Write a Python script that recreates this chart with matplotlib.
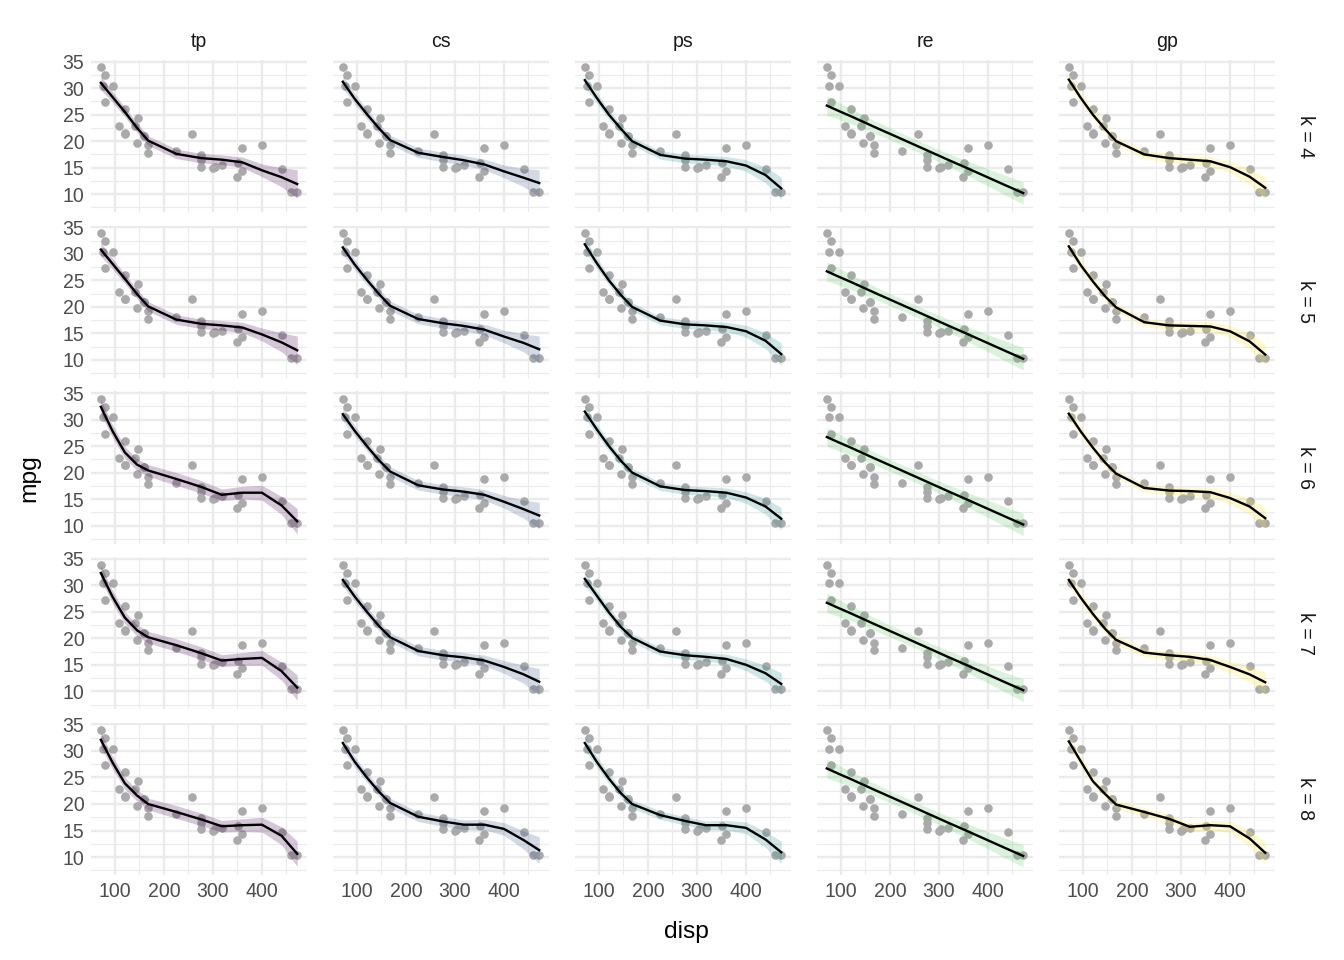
import matplotlib.pyplot as plt
import numpy as np

plt.rcParams["font.family"] = ["Liberation Sans", "DejaVu Sans"]

BASES = ["tp", "cs", "ps", "re", "gp"]
K_VALUES = [4, 5, 6, 7, 8]
FILLS = ["#440154", "#3B528B", "#21908C", "#5DC863", "#FDE725"]

# mtcars: displacement and miles per gallon
DISP = [160, 160, 108, 258, 360, 225, 360, 146.7, 140.8, 167.6, 167.6, 275.8,
        275.8, 275.8, 472, 460, 440, 78.7, 75.7, 71.1, 120.1, 318, 304, 350,
        400, 79, 120.3, 95.1, 351, 145, 301, 121]
MPG = [21.0, 21.0, 22.8, 21.4, 18.7, 18.1, 14.3, 24.4, 22.8, 19.2, 17.8, 16.4,
       17.3, 15.2, 10.4, 10.4, 14.7, 32.4, 30.4, 33.9, 21.5, 15.5, 15.2, 13.3,
       19.2, 27.3, 26.0, 30.4, 15.8, 19.7, 15.0, 21.4]

X_KNOTS = [71.1, 95.1, 120.1, 145.0, 167.6, 225.0, 275.8, 318.0, 360.0, 400.0, 440.0, 472.0]

# fitted mpg per k (rows k = 4..8)
FIT_TP = [
    [31.0, 28.3, 25.5, 22.5, 20.1, 17.6, 16.8, 16.5, 16.0, 14.5, 13.2, 11.9],
    [30.8, 28.1, 25.3, 22.4, 20.1, 17.6, 16.8, 16.5, 16.1, 14.8, 13.3, 11.8],
    [32.4, 27.8, 23.8, 21.5, 20.4, 18.8, 17.3, 15.8, 16.2, 16.2, 13.8, 10.8],
    [32.3, 27.8, 23.9, 21.5, 20.2, 18.7, 17.2, 15.8, 16.1, 16.3, 13.8, 10.7],
    [32.1, 27.8, 23.9, 21.6, 20.0, 18.5, 17.1, 15.8, 16.0, 16.1, 14.0, 10.6],
]
FIT_CS = [
    [31.2, 28.0, 25.1, 22.4, 20.2, 17.8, 17.0, 16.4, 15.6, 14.3, 13.1, 12.1],
    [31.2, 28.0, 25.1, 22.4, 20.2, 17.7, 16.9, 16.4, 15.7, 14.4, 13.2, 12.0],
    [31.0, 27.9, 25.0, 22.3, 20.2, 17.6, 16.8, 16.4, 15.8, 14.5, 13.1, 11.9],
    [31.0, 27.9, 25.0, 22.3, 20.2, 17.6, 16.8, 16.4, 15.8, 14.6, 13.2, 11.8],
    [31.5, 28.0, 25.0, 22.3, 20.2, 17.6, 16.7, 16.1, 16.1, 15.3, 13.2, 11.3],
]
FIT_PS = [
    [31.5, 28.2, 25.0, 22.3, 20.0, 17.4, 16.7, 16.5, 16.2, 15.4, 13.6, 11.1],
    [31.8, 28.3, 25.0, 22.2, 20.0, 17.4, 16.7, 16.5, 16.2, 15.4, 13.6, 11.1],
    [31.5, 28.2, 25.0, 22.2, 20.0, 17.4, 16.7, 16.5, 16.2, 15.3, 13.6, 11.3],
    [31.2, 28.1, 24.9, 22.1, 20.1, 17.5, 16.8, 16.5, 16.1, 15.0, 13.4, 11.4],
    [31.5, 28.0, 24.8, 22.0, 20.0, 17.9, 16.8, 16.0, 16.0, 15.5, 13.3, 10.9],
]
FIT_RE = [
    [26.7, 25.7, 24.7, 23.65, 22.7, 20.35, 18.25, 16.5, 14.8, 13.15, 11.5, 10.2],
    [26.7, 25.7, 24.7, 23.65, 22.7, 20.35, 18.25, 16.5, 14.8, 13.15, 11.5, 10.2],
    [26.7, 25.7, 24.7, 23.65, 22.7, 20.35, 18.25, 16.5, 14.8, 13.15, 11.5, 10.2],
    [26.7, 25.7, 24.7, 23.65, 22.7, 20.35, 18.25, 16.5, 14.8, 13.15, 11.5, 10.2],
    [26.7, 25.7, 24.7, 23.65, 22.7, 20.35, 18.25, 16.5, 14.8, 13.15, 11.5, 10.2],
]
FIT_GP = [
    [31.6, 28.2, 25.0, 22.3, 20.0, 17.5, 16.8, 16.5, 16.2, 15.1, 13.3, 11.2],
    [31.4, 27.9, 24.8, 22.0, 19.9, 17.1, 16.5, 16.4, 16.3, 15.4, 13.5, 11.0],
    [31.1, 27.8, 24.7, 21.9, 19.8, 17.1, 16.6, 16.5, 16.3, 15.2, 13.6, 11.4],
    [31.0, 27.7, 24.6, 21.8, 19.7, 17.3, 16.8, 16.5, 15.9, 14.6, 13.2, 11.7],
    [31.8, 28.1, 24.3, 21.9, 19.9, 18.5, 17.2, 15.7, 16.0, 15.8, 13.5, 10.8],
]

# half-width of the confidence band at each knot
BAND_TP_LOW_K = [1.3, 1.0, 0.9, 0.9, 0.9, 0.9, 0.9, 0.9, 1.0, 1.2, 1.8, 2.7]
BAND_TP_HIGH_K = [1.4, 1.2, 1.1, 1.1, 1.1, 1.2, 1.2, 1.1, 1.2, 1.4, 1.7, 2.4]
BAND_CS = [1.2, 1.0, 0.9, 0.9, 0.9, 0.9, 0.9, 0.9, 1.0, 1.2, 1.7, 2.5]
BAND_PS = [1.3, 1.0, 0.9, 0.9, 0.8, 0.8, 0.8, 0.8, 0.9, 1.1, 1.5, 2.1]
BAND_RE = [1.8, 1.6, 1.4, 1.3, 1.2, 1.1, 1.1, 1.2, 1.4, 1.6, 1.9, 2.1]
BAND_GP = [1.2, 1.0, 0.9, 0.9, 0.8, 0.8, 0.8, 0.8, 0.9, 1.1, 1.5, 2.0]

FITS = [FIT_TP, FIT_CS, FIT_PS, FIT_RE, FIT_GP]
BANDS = [
    [BAND_TP_LOW_K, BAND_TP_LOW_K, BAND_TP_HIGH_K, BAND_TP_HIGH_K, BAND_TP_HIGH_K],
    [BAND_CS] * 5,
    [BAND_PS] * 5,
    [BAND_RE] * 5,
    [BAND_GP] * 5,
]

GRID = "#EBEBEB"
TICK_COLOR = "#4D4D4D"


def main() -> None:
    fig = plt.figure(figsize=(8.4, 6), dpi=160)
    axes = fig.subplots(5, 5, sharex=True, sharey=True)
    fig.subplots_adjust(left=0.0677, right=0.9487, top=0.9375, bottom=0.0885,
                        wspace=0.12, hspace=0.089)

    x = np.array(X_KNOTS)
    for row, k in enumerate(K_VALUES):
        for col, basis in enumerate(BASES):
            ax = axes[row, col]
            fit = np.array(FITS[col][row])
            band = np.array(BANDS[col][row])

            ax.scatter(DISP, MPG, s=15, color="#AAAAAA", linewidths=0, zorder=2)
            ax.fill_between(x, fit - band, fit + band, color=FILLS[col],
                            alpha=0.22, linewidth=0, zorder=3)
            ax.plot(x, fit, color="black", lw=1.07, zorder=4)

            ax.set_xlim(51.0, 492.1)
            ax.set_ylim(6.6, 35.3)
            ax.set_xticks([100, 200, 300, 400])
            ax.set_xticks([150, 250, 350, 450], minor=True)
            ax.set_yticks([10, 15, 20, 25, 30, 35])
            ax.set_yticks([7.5, 12.5, 17.5, 22.5, 27.5, 32.5], minor=True)
            ax.grid(True, which="major", color=GRID, lw=1.07)
            ax.grid(True, which="minor", color=GRID, lw=0.53)
            ax.set_axisbelow(True)
            for spine in ax.spines.values():
                spine.set_visible(False)
            ax.tick_params(which="both", length=0, pad=3, labelsize=8.8,
                           labelcolor=TICK_COLOR)

            if row == 0:
                ax.set_title(basis, fontsize=8.8, color="#1A1A1A", pad=6)
            if col == len(BASES) - 1:
                ax.text(1.14, 0.5, f"k = {k}", transform=ax.transAxes,
                        rotation=-90, ha="center", va="center",
                        fontsize=8.8, color="#1A1A1A")

    fig.text(0.5105, 0.029, "disp", ha="center", va="center", fontsize=11)
    fig.text(0.022, 0.502, "mpg", ha="center", va="center", rotation=90, fontsize=11)

    fig.savefig("out.png", dpi=160, facecolor="white")
    plt.close(fig)


if __name__ == "__main__":
    main()
